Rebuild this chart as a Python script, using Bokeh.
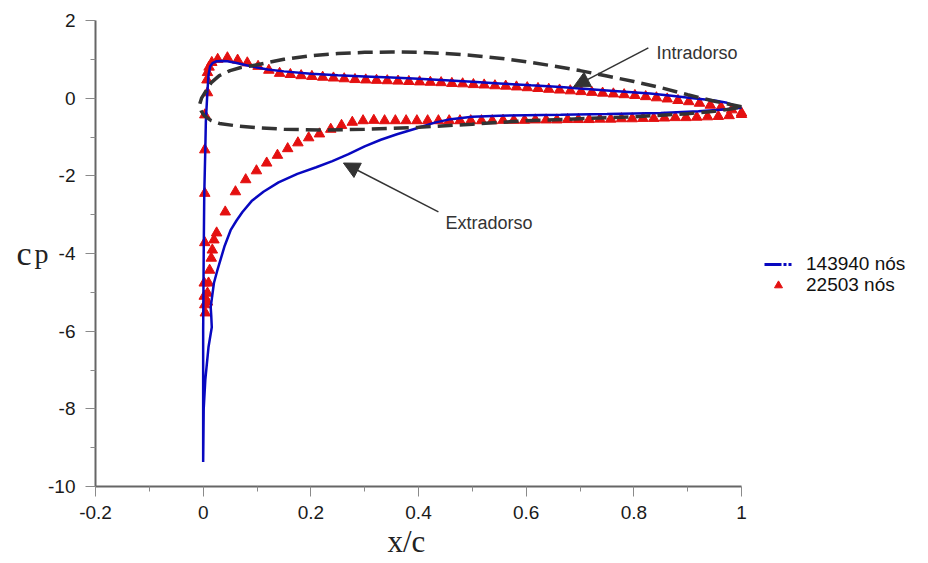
from bokeh.plotting import figure
from bokeh.models import (Range1d, FixedTicker, Label, Arrow, NormalHead,
                          Legend, LegendItem, LinearAxis, Title)
from bokeh.embed import file_html
from bokeh.resources import INLINE

# ---------------- data ----------------
# blue line: 143940 nós (closed Cp curve, pressure side -> LE -> suction side)
blue_x = [1.0, 0.973, 0.95, 0.91, 0.87, 0.83, 0.79, 0.75, 0.70, 0.664, 0.609, 0.55, 0.50,
          0.45, 0.40, 0.35, 0.30, 0.25, 0.20, 0.15, 0.12, 0.10, 0.08, 0.06, 0.045, 0.035,
          0.025, 0.018, 0.013, 0.010, 0.008, 0.005, 0.004, 0.002, 0.001, 0.0, 0.0, 0.0,
          0.001, 0.004, 0.010, 0.016, 0.015, 0.014, 0.020, 0.026, 0.032, 0.040, 0.051,
          0.062, 0.073, 0.09, 0.112, 0.14, 0.175, 0.21, 0.24, 0.27, 0.30, 0.33, 0.36,
          0.40, 0.43, 0.46, 0.50, 0.55, 0.60, 0.664, 0.75, 0.85, 0.92, 0.96, 1.0]
blue_cp = [-0.25, -0.12, -0.06, 0.0, 0.06, 0.12, 0.16, 0.20, 0.25, 0.29, 0.33, 0.38, 0.42,
           0.46, 0.50, 0.53, 0.56, 0.59, 0.63, 0.69, 0.74, 0.79, 0.85, 0.91, 0.95, 0.96,
           0.95, 0.91, 0.82, 0.60, 0.20, -0.60, -1.30, -2.50, -4.0, -6.0, -8.0, -9.37,
           -8.0, -7.25, -6.4, -5.9, -5.6, -5.38, -4.76, -4.45, -4.17, -3.8, -3.4,
           -3.15, -2.93, -2.65, -2.41, -2.17, -1.95, -1.78, -1.62, -1.44, -1.24, -1.07, -0.93,
           -0.76, -0.63, -0.54, -0.48, -0.45, -0.44, -0.43, -0.41, -0.38, -0.34, -0.30, -0.25]

# red triangles: 22503 nós, pressure side (intradorso)
red_up_x = [0.008, 0.007, 0.008, 0.011, 0.016, 0.027, 0.045, 0.064, 0.082, 0.102, 0.122,
            0.142, 0.162, 0.182, 0.202, 0.222, 0.242, 0.262, 0.282, 0.302, 0.322, 0.342,
            0.362, 0.382, 0.402, 0.422, 0.442, 0.462, 0.482, 0.502, 0.522, 0.542, 0.562,
            0.582, 0.602, 0.622, 0.642, 0.662, 0.682, 0.702, 0.722, 0.742, 0.762, 0.782,
            0.802, 0.822, 0.842, 0.862, 0.882, 0.902, 0.922, 0.942, 0.962, 0.982, 1.0]
red_up_cp = [0.14, 0.47, 0.66, 0.80, 0.92, 1.00, 1.04, 0.98, 0.91, 0.82, 0.72,
             0.64, 0.61, 0.58, 0.56, 0.54, 0.52, 0.50, 0.48, 0.47, 0.46, 0.45,
             0.44, 0.43, 0.42, 0.41, 0.40, 0.38, 0.37, 0.35, 0.34, 0.32, 0.31,
             0.29, 0.27, 0.25, 0.23, 0.21, 0.19, 0.17, 0.15, 0.13, 0.11, 0.09,
             0.07, 0.04, 0.01, -0.02, -0.06, -0.09, -0.13, -0.18, -0.23, -0.30, -0.38]
# red triangles: suction side (extradorso)
red_lo_x = [0.003, 0.003, 0.003, 0.003, 0.002, 0.002, 0.003, 0.004, 0.008, 0.008, 0.010,
            0.012, 0.015, 0.017, 0.020, 0.025, 0.041, 0.060, 0.079, 0.099, 0.118, 0.138,
            0.157, 0.176, 0.196, 0.216, 0.237, 0.257, 0.277, 0.297, 0.317, 0.337, 0.357,
            0.377, 0.397, 0.417, 0.437, 0.457, 0.477, 0.497, 0.517, 0.537, 0.557, 0.577,
            0.597, 0.617, 0.637, 0.657, 0.677, 0.697, 0.717, 0.737, 0.757, 0.777, 0.797,
            0.817, 0.837, 0.857, 0.877, 0.897, 0.917, 0.937, 0.957, 0.977, 1.0]
red_lo_cp = [-0.43, -1.33, -2.45, -3.72, -4.76, -5.10, -5.32, -5.53, -5.25, -5.02, -4.76,
             -4.43, -4.12, -3.91, -3.65, -3.47, -2.93, -2.41, -2.10, -1.87, -1.67, -1.47,
             -1.30, -1.15, -1.02, -0.92, -0.80, -0.70, -0.62, -0.58, -0.57, -0.58, -0.58,
             -0.58, -0.58, -0.58, -0.58, -0.58, -0.58, -0.58, -0.58, -0.58, -0.57, -0.57,
             -0.57, -0.56, -0.56, -0.56, -0.55, -0.55, -0.55, -0.54, -0.54, -0.53, -0.53,
             -0.52, -0.52, -0.51, -0.50, -0.50, -0.49, -0.48, -0.47, -0.45, -0.42]

# airfoil outline (dashed)
foil_x = [1.0, 0.95, 0.9, 0.85, 0.8, 0.75, 0.7, 0.65, 0.6, 0.55, 0.5, 0.45, 0.4, 0.35,
          0.3, 0.25, 0.2, 0.15, 0.1, 0.07, 0.05, 0.03, 0.015, 0.005, -0.003, -0.007,
          -0.004, 0.002, 0.015, 0.03, 0.06, 0.1, 0.15, 0.22, 0.3, 0.4, 0.5, 0.6, 0.7,
          0.8, 0.9, 0.95, 0.98, 1.0]
foil_y = [-0.22, -0.08, 0.09, 0.27, 0.43, 0.57, 0.71, 0.83, 0.94, 1.03, 1.10, 1.15, 1.18,
          1.19, 1.18, 1.15, 1.09, 1.0, 0.86, 0.79, 0.71, 0.58, 0.40, 0.18, 0.0, -0.18,
          -0.32, -0.45, -0.58, -0.65, -0.71, -0.76, -0.80, -0.82, -0.80, -0.75, -0.67,
          -0.58, -0.53, -0.48, -0.40, -0.34, -0.28, -0.22]

X_TICKS = [-0.2, 0.0, 0.2, 0.4, 0.6, 0.8, 1.0]
X_TICK_LABELS = ["-0.2", "0", "0.2", "0.4", "0.6", "0.8", "1"]
X_MINOR = [-0.1, 0.1, 0.3, 0.5, 0.7, 0.9]
Y_TICKS = [-10, -8, -6, -4, -2, 0, 2]
Y_TICK_LABELS = ["-10", "-8", "-6", "-4", "-2", "0", "2"]
Y_MINOR = [-9, -7, -5, -3, -1, 1]

SERIES_LABELS = ["143940 nós", "22503 nós"]
X_TITLE = "x/c"
Y_TITLE_MAIN, Y_TITLE_SUB = "c", "p"

# ---------------- figure ----------------
FRAME_W = 820
X_END = -0.2 + FRAME_W / (646.0 / 1.2)

p = figure(width=926, height=561, x_range=Range1d(-0.2, X_END), y_range=Range1d(-10, 2),
           output_backend="svg", toolbar_location=None,
           min_border_left=95, min_border_right=11, min_border_top=20, min_border_bottom=75)
p.grid.visible = False
p.outline_line_color = None
p.background_fill_color = "white"
p.border_fill_color = "white"

for ax, ticks, minor, labels in ((p.xaxis[0], X_TICKS, X_MINOR, X_TICK_LABELS),
                                 (p.yaxis[0], Y_TICKS, Y_MINOR, Y_TICK_LABELS)):
    ax.ticker = FixedTicker(ticks=ticks, minor_ticks=minor)
    ax.major_label_overrides = dict(zip(ticks, labels))
    ax.axis_line_color = "#666666"
    ax.axis_line_width = 2
    ax.major_tick_line_color = "#8a8a8a"
    ax.minor_tick_line_color = "#8a8a8a"
    ax.major_tick_in = 0
    ax.major_tick_out = 10
    ax.minor_tick_in = 0
    ax.minor_tick_out = 5
    ax.major_label_text_font = "Liberation Sans"
    ax.major_label_text_font_size = "19px"
    ax.major_label_text_color = "#1a1a1a"
    ax.major_label_standoff = 10
p.xaxis.bounds = (-0.2, 1.0)
p.xaxis.major_label_standoff = 9


def title_axis(text, size, standoff):
    ax = LinearAxis(ticker=FixedTicker(ticks=[]), axis_label=text)
    ax.axis_line_color = None
    ax.major_tick_line_color = None
    ax.minor_tick_line_color = None
    ax.major_tick_in = 0
    ax.major_tick_out = 0
    ax.minor_tick_in = 0
    ax.minor_tick_out = 0
    ax.major_label_standoff = 0
    ax.axis_label_text_font = "Liberation Serif"
    ax.axis_label_text_font_size = size
    ax.axis_label_text_font_style = "normal"
    ax.axis_label_text_color = "#222222"
    ax.axis_label_standoff = standoff
    ax.axis_label_orientation = "horizontal"
    return ax


p.add_layout(title_axis(Y_TITLE_SUB, "28px", -3), "left")
p.add_layout(title_axis(Y_TITLE_MAIN, "34px", 0), "left")

x_title = Title(text=X_TITLE, align="left", offset=292, standoff=0,
                text_font="Liberation Serif", text_font_size="31px",
                text_font_style="normal", text_color="#222222")
p.add_layout(x_title, "below")

tri_up = p.scatter(red_up_x, red_up_cp, marker="triangle", size=10.5,
                   fill_color="#e41010", line_color="#e41010")
tri_lo = p.scatter(red_lo_x, red_lo_cp, marker="triangle", size=10.5,
                   fill_color="#e41010", line_color="#e41010")
blue = p.line(blue_x, blue_cp, line_color="#0808c0", line_width=2.5)
p.line(foil_x, foil_y, line_color="#333333", line_width=3.5, line_dash="15 7")

# dash-dot line used only for the legend glyph (single point: draws nothing in the plot)
legend_line = p.line(x=blue_x[:1], y=blue_cp[:1], line_color="#0808c0", line_width=3,
                     line_dash="17 2 3 2 3 60")

leg1 = Legend(items=[LegendItem(label=SERIES_LABELS[0], renderers=[legend_line])],
              location=(669, 211))
leg2 = Legend(items=[LegendItem(label=SERIES_LABELS[1], renderers=[tri_up])],
              location=(669, 190))
for lg in (leg1, leg2):
    lg.label_text_font = "Liberation Sans"
    lg.label_text_font_size = "19px"
    lg.label_text_color = "#111111"
    lg.glyph_width = 28
    lg.glyph_height = 20
    lg.label_standoff = 14
    lg.padding = 0
    lg.margin = 0
    lg.spacing = 0
    lg.border_line_color = None
    lg.background_fill_alpha = 0
    p.add_layout(lg)

# annotations
ANN_COLOR = "#333333"
p.add_layout(Arrow(end=NormalHead(size=16, fill_color=ANN_COLOR, line_color=ANN_COLOR),
                   x_start=0.827, y_start=1.296, x_end=0.688, y_end=0.29,
                   line_color=ANN_COLOR, line_width=1.5))
p.add_layout(Arrow(end=NormalHead(size=16, fill_color=ANN_COLOR, line_color=ANN_COLOR),
                   x_start=0.437, y_start=-2.93, x_end=0.2605, y_end=-1.67,
                   line_color=ANN_COLOR, line_width=1.5))
p.add_layout(Label(x=0.842, y=1.167, text="Intradorso", text_font="Liberation Sans",
                   text_font_size="18px", text_color=ANN_COLOR, text_baseline="alphabetic"))
p.add_layout(Label(x=0.450, y=-3.21, text="Extradorso", text_font="Liberation Sans",
                   text_font_size="18px", text_color=ANN_COLOR, text_baseline="alphabetic"))

open("out.html", "w").write(file_html(p, INLINE))
